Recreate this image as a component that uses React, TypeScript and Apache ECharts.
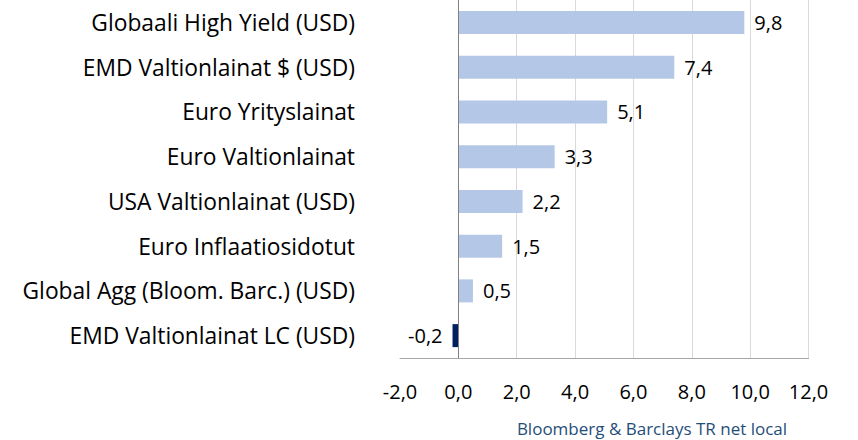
import React, { useEffect, useRef } from "react";
import * as echarts from "echarts";

const categories = [
  "Globaali High Yield (USD)",
  "EMD Valtionlainat $ (USD)",
  "Euro Yrityslainat",
  "Euro Valtionlainat",
  "USA Valtionlainat (USD)",
  "Euro Inflaatiosidotut",
  "Global Agg (Bloom. Barc.) (USD)",
  "EMD Valtionlainat LC (USD)",
];
const values = [9.8, 7.4, 5.1, 3.3, 2.2, 1.5, 0.5, -0.2];
const caption = "Bloomberg & Barclays TR net local";

const FONT = "'Open Sans', 'Noto Sans', sans-serif";
const fmt = (v: number) => v.toFixed(1).replace(".", ",");

export default function App() {
  const ref = useRef<HTMLDivElement>(null);
  useEffect(() => {
    if (!ref.current) return;
    document.body.style.margin = "0";
    const chart = echarts.init(ref.current, undefined, { renderer: "svg" });
    chart.setOption({
      animation: false,
      textStyle: { fontFamily: FONT },
      grid: { left: 400, right: 49.5, top: -2, bottom: 82, containLabel: false },
      xAxis: {
        type: "value",
        min: -2,
        max: 12,
        interval: 2,
        axisLine: { show: true, lineStyle: { color: "#A6A6A6", width: 1 } },
        axisTick: { show: false },
        axisLabel: {
          formatter: (v: number) => fmt(v),
          color: "#000",
          fontSize: 20,
          fontFamily: FONT,
          margin: 23,
        },
        splitLine: { show: true, showMinLine: false, lineStyle: { color: "#D9D9D9", width: 1 } },
      },
      yAxis: {
        type: "category",
        inverse: true,
        data: categories,
        axisLine: { show: false, onZero: false },
        axisTick: { show: false },
        axisLabel: { color: "#000", fontSize: 22.8, fontFamily: FONT, margin: 45 },
        splitLine: { show: false },
      },
      series: [
        {
          type: "bar",
          barWidth: 23,
          data: values.map((v) => ({
            value: v,
            itemStyle: { color: v < 0 ? "#002060" : "#B4C7E7" },
            label: {
              show: true,
              position: v < 0 ? "left" : "right",
              distance: 10,
              formatter: () => fmt(v),
              color: "#000",
              fontSize: 20,
              fontFamily: FONT,
            },
          })),
          markLine: {
            silent: true,
            symbol: "none",
            label: { show: false },
            lineStyle: { color: "#808080", width: 1, type: "solid" },
            data: [{ xAxis: 0 }],
          },
        },
      ],
      graphic: [
        {
          type: "text",
          x: 652,
          y: 428,
          style: {
            text: caption,
            fill: "#1F4E79",
            fontSize: 17,
            fontFamily: FONT,
            textAlign: "center",
            textVerticalAlign: "middle",
          },
        },
      ],
    });
    return () => chart.dispose();
  }, []);
  return <div ref={ref} style={{ width: 858, height: 440 }} />;
}
